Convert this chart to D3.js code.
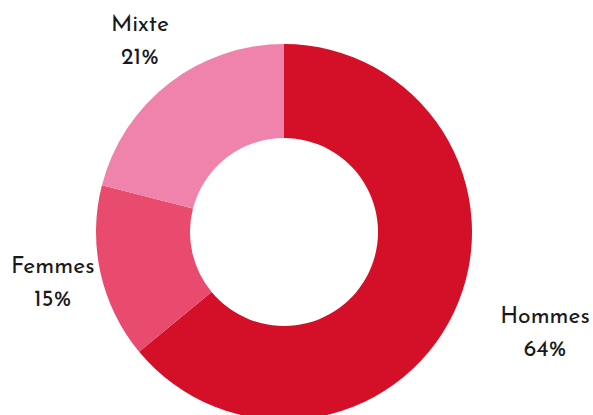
<!DOCTYPE html>
<html>
<head>
<meta charset="utf-8">
<script src="https://cdn.jsdelivr.net/npm/d3@7"></script>
<style>
  body { margin: 0; background: #fff; }
  svg { display: block; }
  .label { font-family: "Josefin Sans", Lato, "Noto Sans", sans-serif; font-size: 23px; font-weight: 400; fill: #1a1a1a; }
</style>
</head>
<body>
<svg id="chart"></svg>
<script>
const categories = ["Hommes", "Femmes", "Mixte"];
const values = [64, 15, 21];
const colors = ["#D31027", "#E84B6E", "#EF83AC"];

const width = 593, height = 415;
const cx = 284, cy = 232;
const outerR = 188, innerR = 94, labelR = 240;

const svg = d3.select("#chart")
  .attr("width", width)
  .attr("height", height);

const data = categories.map((c, i) => ({ name: c, value: values[i], color: colors[i] }));

const pie = d3.pie()
  .value(d => d.value)
  .sort(null);

const arc = d3.arc().innerRadius(innerR).outerRadius(outerR);
const labelArc = d3.arc().innerRadius(labelR).outerRadius(labelR);

const g = svg.append("g").attr("transform", "translate(" + cx + "," + cy + ")");

const arcs = pie(data);

g.selectAll("path")
  .data(arcs)
  .enter()
  .append("path")
  .attr("d", arc)
  .attr("fill", d => d.data.color);

//Labels: right side anchored at start, left side centered
const labels = g.selectAll("g.label-group")
  .data(arcs)
  .enter()
  .append("g")
  .attr("class", "label-group");

labels.each(function (d) {
  const [x, y] = labelArc.centroid(d);
  const grp = d3.select(this);
  const t1 = grp.append("text").attr("class", "label")
    .attr("text-anchor", "middle").attr("y", y - 11).text(d.data.name);
  const t2 = grp.append("text").attr("class", "label")
    .attr("text-anchor", "middle").attr("y", y + 22).text(d.data.value + "%");
  let xc = x + 3;
  if (x > 0) {
    const w = Math.max(t1.node().getComputedTextLength(), t2.node().getComputedTextLength());
    xc = x - 1 + w / 2;
  }
  t1.attr("x", xc);
  t2.attr("x", xc);
});
</script>
</body>
</html>
